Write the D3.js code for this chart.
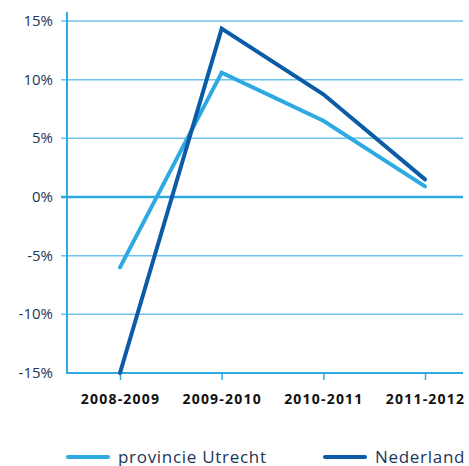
<!DOCTYPE html>
<html>
<head>
<meta charset="utf-8">
<title>Groei provincie Utrecht vs Nederland</title>
<script src="https://cdn.jsdelivr.net/npm/d3@7/dist/d3.min.js"></script>
<style>
    body { margin: 0; background: #fff; }
    svg { display: block; }
</style>
</head>
<body>
<div id="chart"></div>
<script>
    // data
    var periods = ["2008-2009", "2009-2010", "2010-2011", "2011-2012"];
    var utrecht = [-6.0, 10.6, 6.5, 0.9];
    var nederland = [-15.0, 14.35, 8.75, 1.5];
    var yTicks = [-15, -10, -5, 0, 5, 10, 15];
    var seriesNames = ["provincie Utrecht", "Nederland"];
    var seriesColors = ["#2eaae2", "#0b5ba6"];

    var svg = d3.select("#chart").append("svg")
        .attr("width", 469)
        .attr("height", 466);

    var plotLeft = 67, plotRight = 463, plotTop = 21, plotBottom = 373;

    var x = d3.scalePoint().domain(periods).range([120, 425]);
    var y = d3.scaleLinear().domain([-15, 15]).range([plotBottom, plotTop]);

    // gridlines
    svg.append("g").selectAll("line")
        .data(yTicks.filter(function(d) { return d > -15; }))
        .enter().append("line")
        .attr("x1", plotLeft - 6)
        .attr("x2", plotRight)
        .attr("y1", function(d) { return y(d); })
        .attr("y2", function(d) { return y(d); })
        .attr("stroke", function(d) { return d === 0 ? "#2eaae2" : "#6cc4ec"; })
        .attr("stroke-width", function(d) { return d === 0 ? 2.5 : 1.5; });

    // y axis line + labels
    svg.append("line")
        .attr("x1", plotLeft).attr("x2", plotLeft)
        .attr("y1", 12).attr("y2", plotBottom)
        .attr("stroke", "#2eaae2").attr("stroke-width", 2);

    svg.append("g").selectAll("text")
        .data(yTicks)
        .enter().append("text")
        .attr("x", 53)
        .attr("y", function(d) { return y(d) + 5; })
        .attr("text-anchor", "end")
        .attr("font-family", "'Open Sans', sans-serif")
        .attr("font-size", "15px")
        .attr("fill", "#1c3557")
        .text(function(d) { return d + "%"; });

    // x axis
    var xAxis = d3.axisBottom(x).tickSize(7).tickPadding(11);
    var gx = svg.append("g")
        .attr("transform", "translate(0," + plotBottom + ")")
        .call(xAxis);
    gx.select(".domain").remove();
    gx.selectAll(".tick line").attr("stroke", "#2eaae2").attr("stroke-width", 1.5);
    gx.selectAll(".tick text")
        .attr("font-family", "'Open Sans', sans-serif")
        .attr("font-size", "14px")
        .attr("font-weight", "bold")
        .attr("letter-spacing", "1.2px")
        .attr("fill", "#111")
        .attr("dy", "0.9em");
    svg.append("line")
        .attr("x1", plotLeft - 1).attr("x2", plotRight)
        .attr("y1", plotBottom).attr("y2", plotBottom)
        .attr("stroke", "#2eaae2").attr("stroke-width", 2);

    // lines
    var line = d3.line()
        .x(function(d, i) { return x(periods[i]); })
        .y(function(d) { return y(d); });

    [utrecht, nederland].forEach(function(s, i) {
        svg.append("path")
            .datum(s)
            .attr("d", line)
            .attr("fill", "none")
            .attr("stroke", seriesColors[i])
            .attr("stroke-width", 4)
            .attr("stroke-linecap", "round")
            .attr("stroke-linejoin", "miter");
    });

    // legend
    var legendX = [68, 325];
    seriesNames.forEach(function(name, i) {
        svg.append("line")
            .attr("x1", legendX[i]).attr("x2", legendX[i] + 40)
            .attr("y1", 457).attr("y2", 457)
            .attr("stroke", seriesColors[i])
            .attr("stroke-width", 4)
            .attr("stroke-linecap", "round");
        svg.append("text")
            .attr("x", legendX[i] + 50)
            .attr("y", 463)
            .attr("font-family", "'Open Sans', sans-serif")
            .attr("font-size", "17px")
            .attr("letter-spacing", "0.7px")
            .attr("fill", "#1c3557")
            .text(name);
    });
</script>
</body>
</html>
